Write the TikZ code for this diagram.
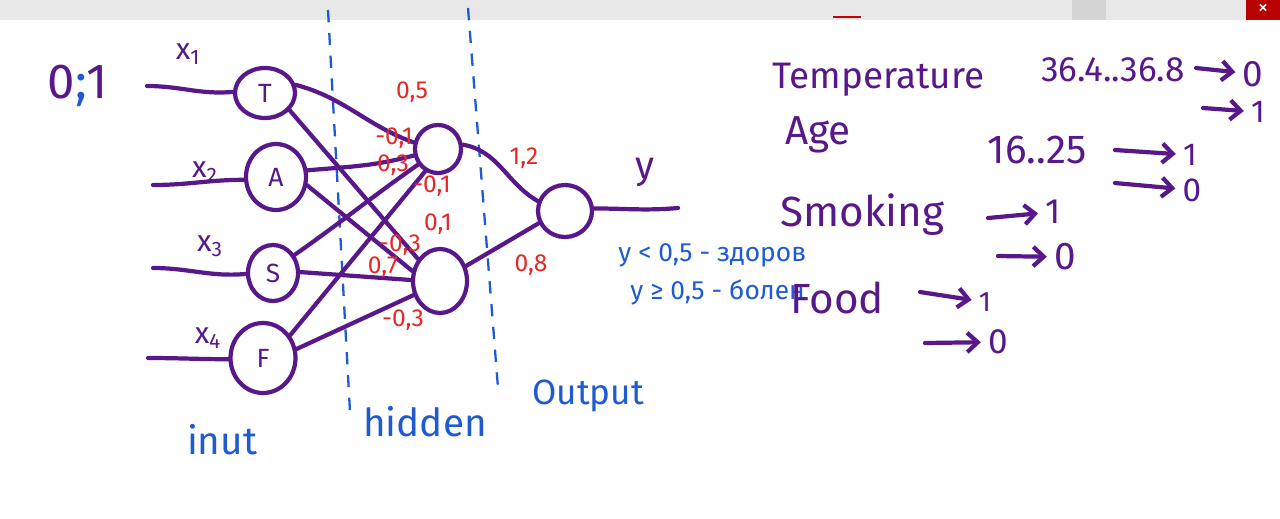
\documentclass[tikz,border=0pt]{standalone}
\usepackage{fontspec}
\setmainfont{Fira Sans}
\usetikzlibrary{arrows.meta,shapes.geometric}
\definecolor{inkpurple}{RGB}{88,24,138}
\definecolor{inkred}{RGB}{228,40,40}
\definecolor{inkblue}{RGB}{30,90,210}
\newlength{\InkWidth}
\setlength{\InkWidth}{2.4pt}
\tikzset{
  neuron/.style={draw=inkpurple, ellipse, line width=\InkWidth, fill=white, inner sep=0pt,
    text=inkpurple, font=\fontsize{15}{15}\selectfont},
  synapse/.style={draw=inkpurple, line width=\InkWidth, line cap=round},
  weight/.style={text=inkred, inner sep=0pt, font=\fontsize{14}{14}\selectfont},
  remark/.style={text=inkblue, inner sep=0pt},
  ink/.style={text=inkpurple, inner sep=0pt},
  layer cut/.style={draw=inkblue, line width=1.3pt, dash pattern=on 7pt off 6pt},
  maps to/.style={draw=inkpurple, line width=\InkWidth, line cap=round, shorten >=4pt,
    -{Straight Barb[length=6pt,width=11pt]}},
}

\begin{document}
\begin{tikzpicture}[x=0.02cm, y=-0.02cm]
  \fill[white] (0,0) rectangle (1280,518);
  \fill[black!9] (0,0) rectangle (1280,20);
  \fill[black!17] (1072,0) rectangle (1106,20);
  \fill[red!72!black] (1246,0) rectangle (1280,20);
  \draw[red!80!black, line width=1pt] (833,17) -- (861,17);
  \node[text=white, inner sep=0pt, font=\fontsize{12}{12}\selectfont] (close) at (1263,9) {×};

  \draw[layer cut] (328,10) -- (350,412);
  \draw[layer cut] (468,8) -- (498,388);

  \node[neuron, minimum width=1.2cm, minimum height=1cm] (T) at (265,93) {T};
  \node[neuron, minimum width=1.2cm, minimum height=1.32cm] (A) at (276,177) {A};
  \node[neuron, minimum width=1cm, minimum height=1.12cm] (S) at (273,273) {S};
  \node[neuron, minimum width=1.3cm, minimum height=1.4cm] (F) at (263,358) {F};
  \node[neuron, minimum width=0.92cm, minimum height=0.96cm] (H1) at (438,149) {};
  \node[neuron, minimum width=1.08cm, minimum height=1.28cm] (H2) at (440,281) {};
  \node[neuron, minimum width=1.08cm, minimum height=1.04cm] (O) at (565,211) {};

  \coordinate (in1) at (147,86);
  \coordinate (in2) at (153,185);
  \coordinate (in3) at (153,268);
  \coordinate (in4) at (148,358);
  \coordinate (yout) at (678,208);
  \draw[synapse] (in1) to[out=0,in=185] (T.178);
  \draw[synapse] (in2) to[out=0,in=180] (A.185);
  \draw[synapse] (in3) to[out=0,in=185] (S.182);
  \draw[synapse] (in4) to[out=0,in=180] (F.182);

  \draw[synapse] (T.15) to[out=-15,in=160] (H1.165);
  \draw[synapse] (T.-35) -- (H2.135);
  \draw[synapse] (A.12) to[out=5,in=195] (H1.195);
  \draw[synapse] (A.-15) -- (H2.160);
  \draw[synapse] (S.40) to[out=35,in=215] (H1.218);
  \draw[synapse] (S.2) -- (H2.178);
  \draw[synapse] (F.40) -- (H1.240);
  \draw[synapse] (F.15) -- (H2.208);
  \draw[synapse] (H1.10) to[out=-10,in=150] (O.160);
  \draw[synapse] (H2.30) -- (O.205);
  \draw[synapse] (O.5) to[out=0,in=185] (yout);

  \node[ink, font=\fontsize{28}{28}\selectfont] (range) at (78,86) {0\textcolor{inkblue}{;}1};
  \node[ink, font=\fontsize{17}{17}\selectfont] (x1) at (188,54) {x\textsubscript{1}};
  \node[ink, font=\fontsize{17}{17}\selectfont] (x2) at (205,172) {x\textsubscript{2}};
  \node[ink, font=\fontsize{17}{17}\selectfont] (x3) at (210,246) {x\textsubscript{3}};
  \node[ink, font=\fontsize{17}{17}\selectfont] (x4) at (208,338) {x\textsubscript{4}};
  \node[ink, font=\fontsize{22}{22}\selectfont] (ylab) at (645,172) {y};

  \node[weight] (w1) at (412,92) {0,5};
  \node[weight] (w2) at (394,138) {-0,1};
  \node[weight] (w3) at (393,165) {0,3};
  \node[weight] (w4) at (432,186) {-0,1};
  \node[weight] (w5) at (438,224) {0,1};
  \node[weight] (w6) at (400,245) {-0,3};
  \node[weight] (w7) at (383,267) {0,7};
  \node[weight] (w8) at (403,320) {-0,3};
  \node[weight] (w9) at (524,158) {1,2};
  \node[weight] (w10) at (531,265) {0,8};

  \node[remark, font=\fontsize{15}{15}\selectfont, anchor=west] (healthy) at (618,255) {y < 0,5 - здоров};
  \node[remark, font=\fontsize{15}{15}\selectfont, anchor=west] (sick) at (630,292) {y ≥ 0,5 - болен};
  \node[remark, font=\fontsize{22}{22}\selectfont] (inlayer) at (222,440) {inut};
  \node[remark, font=\fontsize{22}{22}\selectfont] (hidlayer) at (425,422) {hidden};
  \node[remark, font=\fontsize{20}{20}\selectfont] (outlayer) at (588,396) {Output};

  \node[ink, font=\fontsize{21}{21}\selectfont, anchor=west] (temp) at (772,80) {Temperature};
  \node[ink, font=\fontsize{20}{20}\selectfont] (temprange) at (1113,70) {36.4..36.8};
  \node[ink, font=\fontsize{21}{21}\selectfont] (t0) at (1253,74) {0};
  \node[ink, font=\fontsize{18}{18}\selectfont] (t1) at (1258,112) {1};
  \node[ink, font=\fontsize{23}{23}\selectfont, anchor=west] (age) at (785,135) {Age};
  \node[ink, font=\fontsize{23}{23}\selectfont] (agerange) at (1037,150) {16..25};
  \node[ink, font=\fontsize{18}{18}\selectfont] (a1) at (1190,155) {1};
  \node[ink, font=\fontsize{19}{19}\selectfont] (a0) at (1192,190) {0};
  \node[ink, font=\fontsize{24}{24}\selectfont, anchor=west] (smoking) at (780,215) {Smoking};
  \node[ink, font=\fontsize{20}{20}\selectfont] (s1) at (1053,212) {1};
  \node[ink, font=\fontsize{22}{22}\selectfont] (s0) at (1065,257) {0};
  \node[ink, font=\fontsize{24}{24}\selectfont, anchor=west] (food) at (790,298) {Food};
  \node[ink, font=\fontsize{16}{16}\selectfont] (f1) at (985,302) {1};
  \node[ink, font=\fontsize{20}{20}\selectfont] (f0) at (998,342) {0};

  \coordinate (ta) at (1196,68);
  \coordinate (tb) at (1203,108);
  \coordinate (aa) at (1115,150);
  \coordinate (ab) at (1115,183);
  \coordinate (sa) at (988,218);
  \coordinate (sb) at (998,256);
  \coordinate (fa) at (920,292);
  \coordinate (fb) at (925,343);
  \draw[maps to] (ta) -- (t0);
  \draw[maps to] (tb) -- (t1);
  \draw[maps to] (aa) -- (a1);
  \draw[maps to] (ab) -- (a0);
  \draw[maps to] (sa) -- (s1);
  \draw[maps to] (sb) -- (s0);
  \draw[maps to] (fa) -- (f1);
  \draw[maps to] (fb) -- (f0);
\end{tikzpicture}
\end{document}
